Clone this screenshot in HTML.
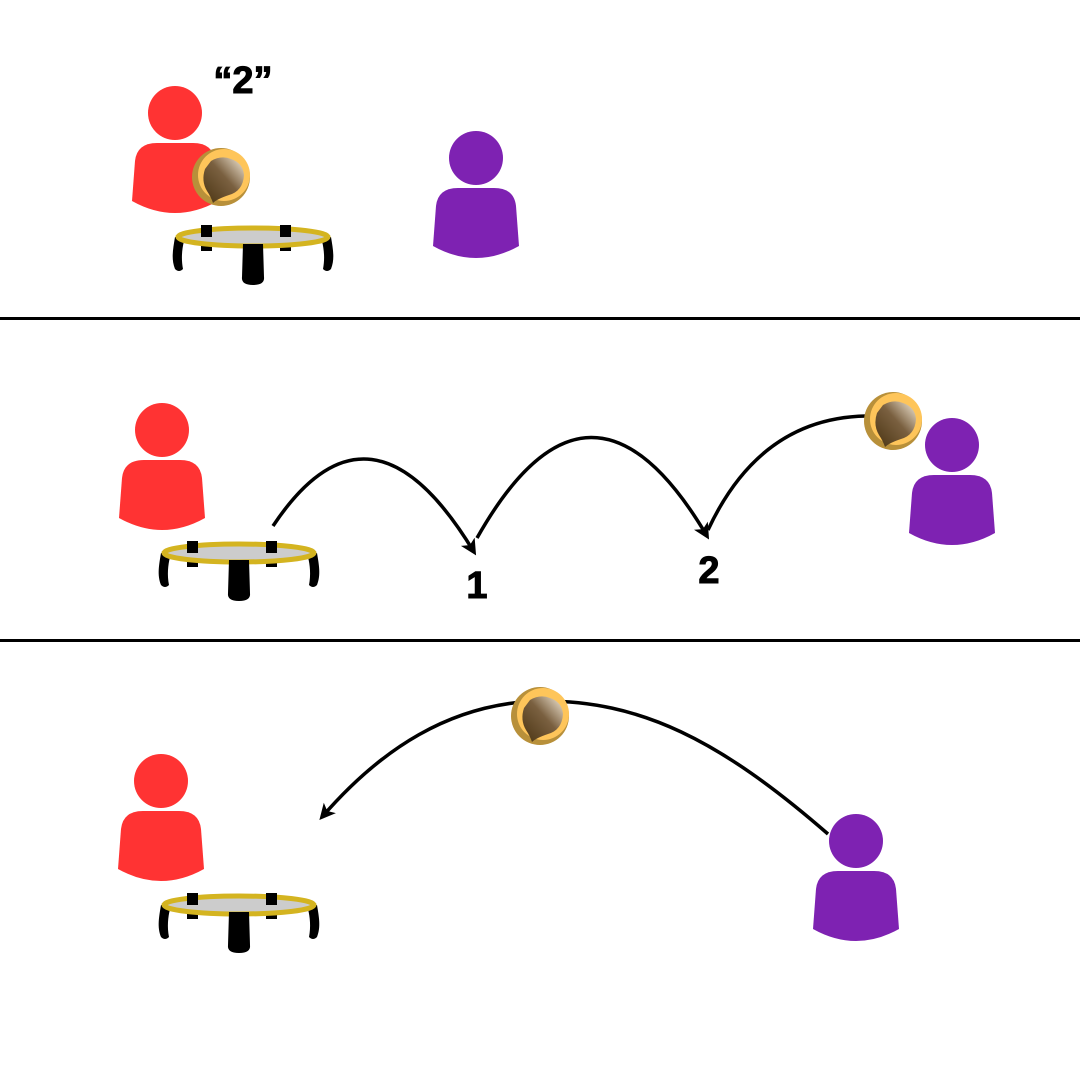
<!DOCTYPE html>
<html><head><meta charset="utf-8"><style>
html,body{margin:0;padding:0;background:#fff;width:1080px;height:1080px;overflow:hidden}
text{font-family:"Liberation Sans","DejaVu Sans",sans-serif;font-weight:900}
</style></head><body>
<svg width="1080" height="1080" viewBox="0 0 1080 1080" xmlns="http://www.w3.org/2000/svg">
<defs>
<linearGradient id="bl" x1="0" y1="1" x2="1" y2="0">
<stop offset="0" stop-color="#4a3412"/><stop offset="0.55" stop-color="#7a6040"/><stop offset="1" stop-color="#f4ead8"/></linearGradient>
<g id="person"><circle cx="0" cy="0" r="27"/>
<path d="M-43,88 L-40,48 Q-38,30 -18,30 L18,30 Q38,30 40,48 L43,88 Q0,112 -43,88 Z"/></g>
<g id="ball">
<circle cx="0" cy="0" r="29" fill="#b8903a"/>
<circle cx="3" cy="-2" r="26" fill="#fec55a"/>
<path d="M-10,-16 Q0,-22 10,-18 Q22,-14 23,-2 Q22,14 8,18 Q-4,22 -8,26 Q-10,20 -14,14 Q-20,4 -16,-8 Z" fill="url(#bl)"/>
</g>
<g id="tramp">
<rect x="-52" y="-12" width="11" height="26" fill="#000"/>
<rect x="27" y="-12" width="11" height="26" fill="#000"/>
<path d="M-78,0 C-80,12 -82,22 -78,32 Q-74,36 -70,32 C-72,22 -71,12 -69,4Z" fill="#000"/>
<path d="M78,0 C80,12 82,22 78,32 Q74,36 70,32 C72,22 71,12 69,4Z" fill="#000"/>
<ellipse cx="0" cy="0" rx="75" ry="9" fill="#ccc" stroke="#d4b420" stroke-width="5"/>
<rect x="-52" y="-12" width="11" height="12" fill="#000"/>
<rect x="27" y="-12" width="11" height="12" fill="#000"/>
<path d="M-10,7 L10,7 L11,40 Q12,48 0,48 Q-12,48 -11,40 Z" fill="#000"/>
</g>
<marker id="ar" markerWidth="18" markerHeight="18" refX="12" refY="8" orient="auto" markerUnits="userSpaceOnUse"><path d="M0,0 L16,8 L0,16 L4,8 Z" fill="#000"/></marker>
</defs>
<rect x="0" y="317" width="1080" height="3" fill="#000"/>
<rect x="0" y="639" width="1080" height="3" fill="#000"/>

<text x="243" y="93" font-size="38" text-anchor="middle" stroke="#000" stroke-width="1">“2”</text>
<use href="#person" x="175" y="113" fill="#ff3333"/>
<use href="#tramp" x="253" y="237"/>
<use href="#ball" x="221" y="177"/>
<use href="#person" x="476" y="158" fill="#7e22b2"/>

<use href="#person" x="162" y="430" fill="#ff3333"/>
<use href="#tramp" x="239" y="553"/>
<use href="#person" x="952" y="445" fill="#7e22b2"/>
<g fill="none" stroke="#000" stroke-width="3.5">
<path d="M273,526 Q370,380 474,552" marker-end="url(#ar)"/>
<path d="M477,538 Q590,338 707,536" marker-end="url(#ar)"/>
<path d="M866,416 Q760,418 708,530"/>
</g>
<use href="#ball" x="893" y="421"/>
<text x="477" y="598" font-size="38" text-anchor="middle" stroke="#000" stroke-width="1">1</text>
<text x="709" y="583" font-size="38" text-anchor="middle" stroke="#000" stroke-width="1">2</text>

<use href="#person" x="161" y="781" fill="#ff3333"/>
<use href="#tramp" x="239" y="905"/>
<use href="#person" x="856" y="841" fill="#7e22b2"/>
<g fill="none" stroke="#000" stroke-width="3.5">
<path d="M828,834 C720,740 640,700 540,701 C450,703 380,750 322,817" marker-end="url(#ar)"/>
</g>
<use href="#ball" x="540" y="716"/>
</svg>
</body></html>
